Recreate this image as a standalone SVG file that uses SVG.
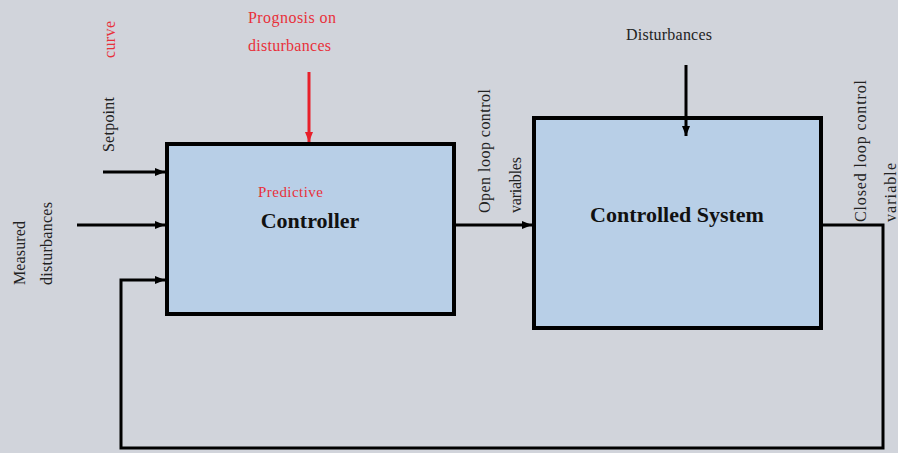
<svg xmlns="http://www.w3.org/2000/svg" width="898" height="453" viewBox="0 0 898 453">
<style>
.box{fill:#b8cfe7;stroke:#000;stroke-width:4}
.ln{fill:none;stroke:#000;stroke-width:3}
.red{fill:none;stroke:#e8202a;stroke-width:3}
text{font-family:"Liberation Serif","Times New Roman",serif;fill:#222}
.lbl{font-size:16px}
.r{fill:#e8303a}
.big{font-size:22px;font-weight:bold;fill:#111}
</style>
<defs>
<marker id="ah" markerUnits="userSpaceOnUse" markerWidth="10" markerHeight="10" viewBox="0 0 10 10" refX="10" refY="5" orient="auto"><path d="M0,1 L10,5 L0,9 Z" fill="#000"/></marker>
<marker id="ahr" markerUnits="userSpaceOnUse" markerWidth="10" markerHeight="10" viewBox="0 0 10 10" refX="10" refY="5" orient="auto"><path d="M0,1 L10,5 L0,9 Z" fill="#e8202a"/></marker>
</defs>
<rect width="898" height="453" fill="#d1d4db"/>
<g id="controller">
<rect class="box" x="167" y="144" width="287" height="170"/>
<text x="258" y="197" font-size="15" class="r" textLength="65">Predictive</text>
<text x="310" y="228" class="big" text-anchor="middle">Controller</text>
</g>
<g id="controlled-system">
<rect class="box" x="534" y="118" width="287" height="210"/>
<text x="677" y="222" class="big" text-anchor="middle">Controlled System</text>
</g>
<g id="connectors">
<line class="ln" x1="103" y1="172" x2="165" y2="172" marker-end="url(#ah)"/>
<line class="ln" x1="77" y1="225" x2="165" y2="225" marker-end="url(#ah)"/>
<path class="ln" d="M822,225 H883 V448 H121 V280 H165" stroke-width="2.5" marker-end="url(#ah)"/>
<line class="ln" x1="456" y1="225" x2="532" y2="225" marker-end="url(#ah)"/>
<line class="red" x1="309" y1="72" x2="309" y2="142" marker-end="url(#ahr)"/>
<line class="ln" x1="686" y1="65" x2="686" y2="136" marker-end="url(#ah)"/>
</g>
<g id="labels">
<text x="248" y="23" class="lbl r" textLength="88">Prognosis on</text>
<text x="248" y="51" class="lbl r" textLength="83">disturbances</text>
<text x="626" y="40" class="lbl" textLength="86">Disturbances</text>
<text class="lbl r" transform="translate(115,58) rotate(-90)" textLength="37">curve</text>
<text class="lbl" transform="translate(114,152) rotate(-90)" textLength="55">Setpoint</text>
<text class="lbl" transform="translate(25,285) rotate(-90)" textLength="64">Measured</text>
<text class="lbl" transform="translate(52,285) rotate(-90)" textLength="83">disturbances</text>
<text class="lbl" transform="translate(490,213) rotate(-90)" textLength="124">Open loop control</text>
<text class="lbl" transform="translate(521,213) rotate(-90)" textLength="56">variables</text>
<text class="lbl" transform="translate(866,222) rotate(-90)" textLength="142">Closed loop control</text>
<text class="lbl" transform="translate(896,222) rotate(-90)" textLength="59">variable</text>
</g>
</svg>
